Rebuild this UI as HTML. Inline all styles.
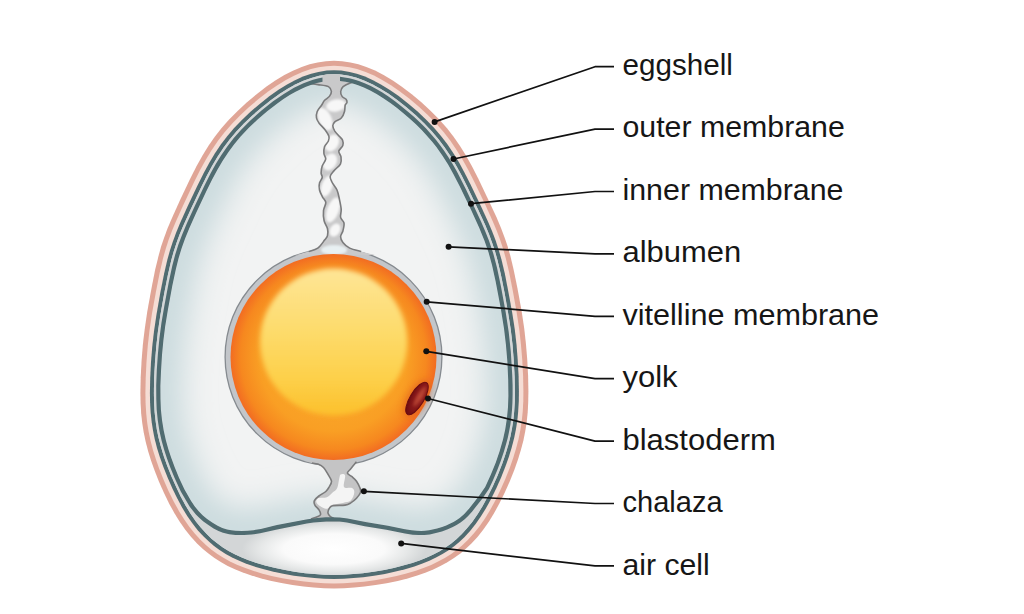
<!DOCTYPE html>
<html><head><meta charset="utf-8"><style>
html,body{margin:0;padding:0;background:#fff;width:1024px;height:614px;overflow:hidden}
svg{display:block}
text{font-family:"Liberation Sans",sans-serif;font-size:30px;fill:#161616}
</style></head><body>
<svg width="1024" height="614" viewBox="0 0 1024 614">
<defs>
<radialGradient id="albg" cx="334" cy="335" r="205" gradientUnits="userSpaceOnUse" gradientTransform="translate(334 335) scale(1 1.3) translate(-334 -335)">
<stop offset="0" stop-color="#f8f8f8"/><stop offset="0.5" stop-color="#f1f2f2"/><stop offset="0.8" stop-color="#e2e9ea"/><stop offset="1" stop-color="#cfdde0"/>
</radialGradient>
<radialGradient id="acg" cx="334" cy="549" r="92" gradientUnits="userSpaceOnUse" gradientTransform="translate(334 549) scale(1 0.3) translate(-334 -549)">
<stop offset="0" stop-color="#ffffff"/><stop offset="0.55" stop-color="#fafafa"/><stop offset="0.8" stop-color="#e6e8e8"/><stop offset="1" stop-color="#d3d6d7"/>
</radialGradient>
<radialGradient id="yolkg" cx="333.5" cy="357" r="103" gradientUnits="userSpaceOnUse">
<stop offset="0" stop-color="#fbb030"/><stop offset="0.72" stop-color="#f99f24"/><stop offset="0.9" stop-color="#f6881f"/><stop offset="1" stop-color="#f26c22"/>
</radialGradient>
<linearGradient id="yelg" x1="0" y1="269" x2="0" y2="415" gradientUnits="userSpaceOnUse">
<stop offset="0" stop-color="#fee596"/><stop offset="0.4" stop-color="#fddc6e"/><stop offset="0.75" stop-color="#fdd04a"/><stop offset="1" stop-color="#fcc02c"/>
</linearGradient>
<radialGradient id="bdg" cx="0.62" cy="0.4" r="0.7">
<stop offset="0" stop-color="#b33a2c"/><stop offset="0.55" stop-color="#861819"/><stop offset="1" stop-color="#660a10"/>
</radialGradient>
<filter id="soft07" x="-20%" y="-20%" width="140%" height="140%"><feGaussianBlur stdDeviation="0.8"/></filter>
<filter id="soft" x="-20%" y="-20%" width="140%" height="140%"><feGaussianBlur stdDeviation="2.6"/></filter>
<filter id="soft4" x="-30%" y="-30%" width="160%" height="160%"><feGaussianBlur stdDeviation="3"/></filter>
<clipPath id="albclip"><path d="M333.1,80.8 L327.7,81.1 L322.3,81.8 L316.9,83.0 L311.5,84.7 L306.0,86.7 L299.6,89.6 L294.2,92.5 L287.9,96.2 L281.7,100.3 L274.7,105.3 L268.0,110.6 L260.7,116.8 L253.7,123.1 L247.9,128.8 L242.4,134.6 L237.2,140.6 L233.0,145.8 L229.0,151.2 L225.2,156.7 L221.2,163.1 L213.8,176.4 L205.8,192.4 L192.8,220.3 L185.7,237.0 L182.7,245.1 L180.3,252.5 L178.1,259.9 L176.0,268.2 L171.4,290.8 L166.2,320.0 L163.6,338.9 L161.8,357.6 L160.6,380.7 L160.4,391.1 L160.5,399.9 L160.9,408.6 L161.6,416.5 L162.6,424.3 L163.8,431.3 L165.8,440.0 L168.3,448.9 L171.5,458.7 L175.3,468.7 L180.0,479.8 L184.5,489.6 L192.3,502.8 L195.7,507.6 L199.0,511.6 L202.6,515.2 L207.1,519.0 L212.6,522.8 L217.6,525.8 L222.9,528.2 L227.8,529.7 L232.8,530.5 L238.6,530.9 L246.1,530.8 L252.8,530.3 L259.3,529.2 L276.3,525.3 L305.4,519.6 L311.5,518.7 L318.3,517.9 L324.4,517.4 L330.6,517.2 L339.1,517.4 L346.8,518.3 L366.2,522.2 L388.6,525.9 L407.2,529.6 L415.3,530.7 L421.9,530.9 L427.7,530.5 L434.2,529.2 L442.1,526.9 L448.3,524.5 L453.5,522.0 L458.5,518.9 L462.5,515.7 L466.1,512.1 L469.9,507.6 L477.4,498.1 L482.8,490.9 L485.2,487.1 L486.8,483.8 L490.9,474.6 L494.6,465.4 L499.7,450.9 L501.9,443.8 L503.7,436.8 L505.9,425.5 L507.4,414.1 L508.3,401.9 L508.4,388.7 L507.9,371.3 L506.6,351.9 L504.9,335.0 L502.5,318.4 L498.9,297.8 L494.8,277.3 L491.6,263.4 L488.5,252.2 L484.7,241.2 L480.2,230.0 L474.3,216.8 L464.6,196.3 L457.2,181.1 L451.4,170.3 L445.6,160.5 L439.2,151.0 L432.2,141.8 L425.1,133.7 L417.4,125.8 L408.2,117.3 L397.6,108.5 L387.3,100.8 L377.5,94.5 L372.0,91.4 L367.5,89.1 L362.9,87.1 L358.4,85.3 L350.2,82.8 L345.7,81.8 L341.2,81.2 L336.7,80.8Z"/></clipPath>
<filter id="glow" x="-10%" y="-10%" width="120%" height="120%"><feGaussianBlur stdDeviation="16"/></filter>
<clipPath id="gapclip"><path d="M334.0,74.3 L327.1,74.6 L319.2,75.8 L311.4,77.9 L303.5,80.7 L295.8,84.3 L288.2,88.5 L279.8,93.7 L270.8,100.2 L261.4,107.7 L252.4,115.5 L244.0,123.5 L236.2,131.8 L229.7,139.5 L223.7,147.5 L217.7,156.4 L212.2,165.7 L206.7,175.9 L200.8,187.9 L190.2,210.4 L183.4,225.4 L179.6,234.6 L176.5,243.0 L173.8,251.3 L171.2,260.5 L168.0,274.6 L164.2,293.6 L160.4,315.0 L157.9,331.7 L156.3,346.3 L155.0,362.2 L154.1,378.7 L153.9,392.9 L154.1,402.8 L154.7,412.7 L155.7,421.7 L156.9,429.8 L158.6,438.0 L161.0,447.1 L163.8,456.3 L167.1,465.5 L171.6,476.8 L176.2,487.1 L180.7,496.5 L185.7,505.7 L190.6,513.7 L195.9,521.4 L201.0,527.8 L206.5,533.8 L211.5,538.7 L216.9,543.1 L222.6,547.2 L228.6,551.0 L234.8,554.3 L241.3,557.3 L248.0,560.1 L255.9,562.8 L265.1,565.5 L274.4,567.8 L283.9,569.8 L294.5,571.7 L305.2,573.2 L314.8,574.1 L324.4,574.7 L334.0,574.9 L343.6,574.7 L353.2,574.1 L362.8,573.2 L373.5,571.8 L384.1,569.9 L393.6,568.0 L403.0,565.6 L412.2,563.0 L420.1,560.2 L426.8,557.5 L433.3,554.5 L439.6,551.2 L445.5,547.5 L451.2,543.4 L456.6,538.9 L461.8,534.1 L467.2,528.1 L472.4,521.7 L477.7,514.0 L482.6,506.0 L487.6,496.8 L492.7,486.5 L497.7,475.2 L502.1,464.0 L505.3,454.7 L508.1,445.6 L510.4,436.5 L512.0,428.3 L513.3,420.2 L514.2,411.1 L514.8,401.2 L514.9,391.3 L514.6,376.2 L513.7,359.8 L512.5,344.7 L510.8,330.1 L508.2,313.4 L504.5,292.6 L500.8,274.3 L497.5,260.3 L494.9,251.1 L492.1,242.7 L489.0,234.3 L485.2,225.1 L478.3,210.1 L467.6,187.6 L461.6,175.6 L456.1,165.4 L450.6,156.2 L444.5,147.2 L438.5,139.3 L431.9,131.6 L424.1,123.3 L415.7,115.3 L406.7,107.5 L397.2,100.0 L388.2,93.6 L379.9,88.4 L372.2,84.2 L364.5,80.7 L356.7,77.8 L348.8,75.8 L340.9,74.6Z"/></clipPath>
<clipPath id="tclip"><path d="M309.0,83.5 C310.5,83.7 314.8,84.1 318.0,84.6 C321.2,85.1 326.3,85.4 328.5,86.6 C330.7,87.8 331.2,89.9 331.4,91.5 C331.5,93.1 330.5,94.9 329.4,96.4 C328.3,97.9 325.9,98.9 324.6,100.3 C323.3,101.7 322.9,103.1 321.7,105.0 C320.5,106.9 318.1,109.3 317.2,111.5 C316.3,113.7 316.2,116.0 316.5,118.0 C316.8,120.0 317.7,121.2 319.1,123.2 C320.5,125.2 323.4,127.6 325.0,129.8 C326.6,132.0 328.3,134.4 328.9,136.3 C329.5,138.2 329.1,139.3 328.4,141.0 C327.7,142.7 325.2,144.6 324.5,146.7 C323.8,148.8 323.7,151.4 323.9,153.5 C324.1,155.6 326.0,157.1 325.7,159.2 C325.4,161.3 323.0,163.7 322.2,166.0 C321.4,168.3 321.1,171.0 321.1,172.9 C321.1,174.8 322.5,175.8 322.2,177.5 C321.9,179.2 319.8,181.1 319.4,183.2 C318.9,185.3 319.0,187.7 319.5,190.0 C320.0,192.3 321.3,194.7 322.4,196.8 C323.4,198.9 325.6,200.2 325.8,202.5 C326.0,204.8 323.8,207.4 323.5,210.5 C323.2,213.6 323.4,217.8 324.1,220.8 C324.8,223.8 326.9,226.2 327.5,228.7 C328.1,231.2 328.0,233.7 327.5,235.6 C327.0,237.5 326.2,238.0 324.6,240.1 C323.0,242.2 320.5,246.2 317.8,248.1 C315.1,250.0 312.5,250.3 308.7,251.5 C304.9,252.7 297.3,254.8 295.0,255.5 L375.0,255.0 C372.7,254.4 365.3,252.7 361.1,251.5 C356.9,250.3 352.7,249.6 349.7,248.1 C346.7,246.6 344.4,244.3 342.9,242.4 C341.4,240.5 340.6,238.6 340.6,236.7 C340.6,234.8 342.3,233.3 342.9,231.0 C343.5,228.7 344.4,225.3 344.0,223.0 C343.6,220.7 341.1,219.7 340.6,217.4 C340.1,215.1 341.4,212.5 341.2,209.4 C341.0,206.3 340.1,202.3 339.4,199.1 C338.7,195.9 338.2,192.8 337.0,190.0 C335.8,187.2 333.0,184.3 331.9,182.0 C330.8,179.7 329.8,178.2 330.2,176.3 C330.6,174.4 332.5,172.7 334.2,170.6 C335.9,168.5 339.4,166.1 340.5,163.8 C341.6,161.5 341.3,159.0 341.0,156.9 C340.7,154.8 338.5,153.1 338.8,151.2 C339.1,149.3 342.2,147.3 342.8,145.5 C343.4,143.7 343.2,141.7 342.6,140.2 C342.0,138.7 340.6,137.8 339.3,136.3 C338.0,134.8 335.9,132.8 334.8,131.1 C333.7,129.3 332.8,127.3 332.8,125.8 C332.8,124.3 333.4,123.2 334.8,121.9 C336.2,120.6 339.7,119.7 341.3,118.0 C342.9,116.3 343.9,113.7 344.5,111.5 C345.1,109.3 344.8,106.5 345.2,105.0 C345.6,103.5 346.9,103.5 347.0,102.5 C347.1,101.5 346.9,100.3 346.1,99.3 C345.3,98.3 343.0,97.7 342.1,96.4 C341.2,95.1 340.5,93.1 340.7,91.5 C340.9,89.9 341.4,88.1 343.1,86.6 C344.8,85.1 348.6,83.5 350.9,82.7 C353.2,81.9 356.0,81.7 357.0,81.5 L340,77 L340,68 L322.5,68 L322.5,80 Z"/></clipPath>
<clipPath id="bclip"><path d="M305.0,461.0 C306.2,461.3 309.9,462.5 312.0,463.0 C314.1,463.5 315.9,463.4 317.8,464.1 C319.7,464.9 321.8,465.8 323.5,467.5 C325.2,469.2 326.7,472.1 328.0,474.4 C329.3,476.7 331.3,479.1 331.5,481.2 C331.7,483.3 330.1,485.2 329.2,486.9 C328.2,488.6 327.5,490.0 325.8,491.5 C324.1,493.0 320.8,494.5 318.9,496.0 C317.0,497.5 315.1,499.1 314.4,500.6 C313.7,502.1 314.1,503.6 314.9,505.1 C315.6,506.6 317.9,508.2 318.9,509.7 C319.8,511.2 320.8,513.2 320.6,514.3 C320.4,515.4 319.4,515.8 317.8,516.5 C316.2,517.2 314.0,517.9 311.0,518.8 C308.0,519.7 301.8,521.5 300.0,522.0 L370.0,522.0 C365.0,521.7 346.1,520.6 340.0,520.0 C333.9,519.4 335.3,518.8 333.7,518.2 C332.1,517.6 331.2,517.4 330.3,516.5 C329.4,515.6 328.2,514.4 328.0,513.1 C327.8,511.8 328.4,509.8 329.2,508.6 C330.0,507.4 330.0,506.3 332.6,505.7 C335.2,505.1 342.1,505.6 345.1,505.1 C348.1,504.6 348.9,504.0 350.8,502.9 C352.7,501.8 354.9,500.0 356.5,498.3 C358.1,496.6 359.9,494.3 360.5,492.6 C361.1,490.9 360.7,489.9 360.0,488.0 C359.3,486.1 357.8,483.1 356.5,481.2 C355.2,479.3 353.5,478.0 352.0,476.7 C350.5,475.4 347.6,474.5 347.4,473.2 C347.2,471.9 349.3,470.6 350.8,468.7 C352.3,466.8 354.6,463.4 356.5,461.8 C358.4,460.2 361.1,459.5 362.0,459.0 Z"/></clipPath>
</defs>
<path d="M334.0,60.8 L325.8,61.2 L317.6,62.4 L309.6,64.3 L301.7,66.9 L292.9,70.7 L284.4,75.1 L275.3,80.6 L266.5,86.6 L256.3,94.4 L246.7,102.5 L237.6,110.9 L229.1,119.6 L221.2,128.6 L214.6,137.0 L208.5,145.7 L202.5,155.5 L196.5,166.2 L190.3,178.6 L180.2,199.8 L172.1,217.7 L167.7,228.1 L164.1,237.7 L161.1,246.6 L158.4,256.4 L155.1,270.1 L151.4,288.7 L147.2,312.0 L144.7,329.2 L142.9,344.2 L141.6,360.5 L140.7,377.3 L140.4,392.9 L140.6,403.3 L141.2,413.8 L142.3,423.5 L143.7,432.3 L145.5,441.0 L148.0,450.8 L151.0,460.5 L154.5,470.3 L159.1,482.0 L163.9,492.8 L169.2,503.7 L174.6,513.4 L179.9,522.0 L185.1,529.5 L190.7,536.6 L196.8,543.3 L202.6,548.7 L207.8,553.1 L214.1,557.8 L220.8,562.1 L227.7,565.9 L234.9,569.3 L242.2,572.3 L250.7,575.3 L260.5,578.2 L270.3,580.7 L281.4,583.1 L292.5,585.0 L303.6,586.6 L313.7,587.6 L323.9,588.2 L334.0,588.4 L344.1,588.2 L354.3,587.6 L364.4,586.6 L375.5,585.1 L386.7,583.2 L397.7,580.9 L407.6,578.4 L417.3,575.5 L425.9,572.5 L433.2,569.5 L440.4,566.1 L447.3,562.3 L454.0,558.0 L460.4,553.4 L465.6,549.0 L471.4,543.5 L477.5,536.9 L483.2,529.8 L489.0,521.4 L494.3,512.8 L499.6,503.0 L504.9,492.2 L509.7,481.4 L514.4,469.7 L517.8,459.9 L520.8,450.2 L523.4,440.4 L525.2,431.6 L526.7,421.9 L527.7,412.2 L528.2,402.6 L528.4,391.3 L528.1,375.7 L527.2,358.9 L525.9,343.4 L524.2,328.3 L521.6,311.1 L517.5,288.5 L513.7,269.9 L510.4,256.0 L507.6,246.3 L504.6,237.4 L500.9,227.7 L496.5,217.3 L488.2,199.4 L478.1,178.2 L471.7,165.8 L465.8,155.2 L459.7,145.4 L453.6,136.7 L447.0,128.3 L439.0,119.3 L430.5,110.7 L421.4,102.3 L411.8,94.2 L401.5,86.4 L392.8,80.5 L383.6,75.0 L375.1,70.6 L366.3,66.9 L358.4,64.3 L350.4,62.4 L342.2,61.2Z" fill="#e0a596"/>
<path d="M334.0,65.8 L326.3,66.2 L318.6,67.3 L311.0,69.1 L302.4,72.0 L294.0,75.7 L285.9,80.0 L277.0,85.4 L268.5,91.3 L258.5,99.0 L249.1,107.0 L240.3,115.2 L232.0,123.8 L224.4,132.6 L218.0,140.8 L211.6,150.2 L205.8,159.8 L200.0,170.3 L193.9,182.5 L183.2,205.2 L176.0,221.3 L172.0,230.7 L168.5,240.2 L165.7,248.9 L163.0,258.4 L159.7,272.8 L155.9,292.0 L152.0,313.6 L149.5,330.6 L147.8,345.5 L146.5,361.7 L145.7,378.4 L145.4,392.9 L145.6,403.1 L146.2,413.4 L147.2,422.8 L148.6,431.4 L150.4,439.9 L152.8,449.4 L155.8,459.0 L159.1,468.5 L163.7,480.1 L168.4,490.7 L173.7,501.4 L178.9,510.9 L184.1,519.3 L189.1,526.5 L194.5,533.3 L200.4,539.8 L205.9,545.0 L210.9,549.2 L217.0,553.7 L223.4,557.8 L230.0,561.4 L236.9,564.7 L244.0,567.6 L252.3,570.6 L261.8,573.4 L271.5,575.9 L282.3,578.2 L293.2,580.1 L304.2,581.6 L314.1,582.6 L324.1,583.2 L334.0,583.4 L343.9,583.2 L353.9,582.6 L363.8,581.7 L374.8,580.2 L385.7,578.3 L396.6,576.0 L406.3,573.6 L415.8,570.7 L424.1,567.8 L431.2,564.9 L438.1,561.6 L444.8,558.0 L451.2,553.9 L457.3,549.4 L462.3,545.3 L467.8,540.0 L473.7,533.6 L479.2,526.8 L484.8,518.7 L490.0,510.3 L495.2,500.7 L500.4,490.1 L505.1,479.5 L509.7,467.9 L513.1,458.3 L516.0,448.8 L518.5,439.3 L520.2,430.8 L521.7,421.3 L522.7,411.8 L523.3,401.5 L523.4,391.3 L523.1,375.9 L522.2,359.2 L520.9,343.9 L519.2,329.0 L516.6,311.9 L512.7,290.2 L509.0,271.7 L505.7,258.1 L503.0,248.6 L500.2,239.9 L496.6,230.4 L492.6,220.9 L485.3,204.8 L474.4,182.1 L468.3,169.9 L462.5,159.4 L456.6,149.9 L450.2,140.6 L443.8,132.3 L436.1,123.5 L427.8,115.0 L418.9,106.8 L409.5,98.8 L399.6,91.2 L391.0,85.3 L382.2,79.9 L374.0,75.6 L365.6,72.0 L357.0,69.1 L349.4,67.3 L341.7,66.2Z" fill="#f5ddd5"/>
<path d="M334.0,70.3 L326.7,70.6 L318.4,71.9 L311.2,73.8 L303.0,76.6 L295.0,80.2 L287.1,84.5 L278.5,89.8 L269.3,96.3 L259.7,103.9 L250.5,111.8 L241.9,119.9 L233.9,128.3 L227.2,136.2 L221.0,144.3 L214.8,153.5 L209.2,162.9 L203.6,173.2 L197.6,185.3 L187.3,207.1 L180.1,223.0 L176.2,232.4 L172.8,241.7 L170.0,250.2 L167.4,259.5 L164.1,273.7 L160.3,292.8 L156.5,314.4 L154.0,331.2 L152.3,346.0 L151.0,362.0 L150.2,378.6 L149.9,392.9 L150.1,402.9 L150.7,413.0 L151.7,422.2 L153.0,430.6 L154.7,438.9 L157.1,448.2 L160.0,457.5 L163.4,466.9 L167.9,478.3 L172.5,488.8 L177.2,498.3 L182.2,507.7 L187.2,515.9 L192.7,523.8 L197.9,530.4 L203.6,536.6 L208.9,541.6 L213.7,545.7 L219.5,550.0 L225.7,553.9 L232.1,557.4 L238.7,560.6 L245.6,563.4 L253.7,566.3 L263.0,569.1 L272.5,571.5 L283.2,573.8 L293.9,575.7 L304.7,577.1 L314.5,578.1 L324.2,578.7 L334.0,578.9 L343.8,578.7 L353.5,578.1 L363.3,577.2 L374.1,575.7 L384.9,573.9 L395.6,571.6 L405.1,569.2 L414.4,566.4 L422.5,563.6 L429.4,560.8 L436.0,557.6 L442.5,554.1 L448.6,550.2 L454.5,545.9 L459.3,541.9 L464.6,536.9 L470.3,530.7 L475.6,524.1 L481.0,516.2 L486.1,508.0 L491.2,498.7 L496.3,488.2 L501.0,477.7 L505.5,466.3 L508.8,456.9 L511.7,447.6 L514.1,438.3 L515.8,429.9 L517.3,420.7 L518.2,411.5 L518.8,401.3 L518.9,391.3 L518.6,376.1 L517.7,359.5 L516.5,344.4 L514.8,329.6 L512.2,312.7 L508.4,291.9 L504.8,273.5 L501.4,259.3 L498.7,249.9 L495.9,241.3 L492.4,232.1 L488.5,222.7 L481.2,206.7 L470.8,185.0 L464.7,172.9 L459.1,162.6 L453.4,153.2 L447.2,144.0 L441.0,136.0 L434.2,128.1 L426.2,119.7 L417.6,111.6 L408.4,103.7 L398.7,96.1 L389.5,89.7 L380.9,84.4 L373.0,80.2 L365.0,76.6 L356.8,73.7 L349.6,71.9 L341.3,70.6Z" fill="#506c71"/>
<path d="M334.0,74.3 L327.1,74.6 L319.2,75.8 L311.4,77.9 L303.5,80.7 L295.8,84.3 L288.2,88.5 L279.8,93.7 L270.8,100.2 L261.4,107.7 L252.4,115.5 L244.0,123.5 L236.2,131.8 L229.7,139.5 L223.7,147.5 L217.7,156.4 L212.2,165.7 L206.7,175.9 L200.8,187.9 L190.2,210.4 L183.4,225.4 L179.6,234.6 L176.5,243.0 L173.8,251.3 L171.2,260.5 L168.0,274.6 L164.2,293.6 L160.4,315.0 L157.9,331.7 L156.3,346.3 L155.0,362.2 L154.1,378.7 L153.9,392.9 L154.1,402.8 L154.7,412.7 L155.7,421.7 L156.9,429.8 L158.6,438.0 L161.0,447.1 L163.8,456.3 L167.1,465.5 L171.6,476.8 L176.2,487.1 L180.7,496.5 L185.7,505.7 L190.6,513.7 L195.9,521.4 L201.0,527.8 L206.5,533.8 L211.5,538.7 L216.9,543.1 L222.6,547.2 L228.6,551.0 L234.8,554.3 L241.3,557.3 L248.0,560.1 L255.9,562.8 L265.1,565.5 L274.4,567.8 L283.9,569.8 L294.5,571.7 L305.2,573.2 L314.8,574.1 L324.4,574.7 L334.0,574.9 L343.6,574.7 L353.2,574.1 L362.8,573.2 L373.5,571.8 L384.1,569.9 L393.6,568.0 L403.0,565.6 L412.2,563.0 L420.1,560.2 L426.8,557.5 L433.3,554.5 L439.6,551.2 L445.5,547.5 L451.2,543.4 L456.6,538.9 L461.8,534.1 L467.2,528.1 L472.4,521.7 L477.7,514.0 L482.6,506.0 L487.6,496.8 L492.7,486.5 L497.7,475.2 L502.1,464.0 L505.3,454.7 L508.1,445.6 L510.4,436.5 L512.0,428.3 L513.3,420.2 L514.2,411.1 L514.8,401.2 L514.9,391.3 L514.6,376.2 L513.7,359.8 L512.5,344.7 L510.8,330.1 L508.2,313.4 L504.5,292.6 L500.8,274.3 L497.5,260.3 L494.9,251.1 L492.1,242.7 L489.0,234.3 L485.2,225.1 L478.3,210.1 L467.6,187.6 L461.6,175.6 L456.1,165.4 L450.6,156.2 L444.5,147.2 L438.5,139.3 L431.9,131.6 L424.1,123.3 L415.7,115.3 L406.7,107.5 L397.2,100.0 L388.2,93.6 L379.9,88.4 L372.2,84.2 L364.5,80.7 L356.7,77.8 L348.8,75.8 L340.9,74.6Z" fill="#d4e0e2"/>
<path d="M334.0,74.3 L327.1,74.6 L319.2,75.8 L311.4,77.9 L303.5,80.7 L295.8,84.3 L288.2,88.5 L279.8,93.7 L270.8,100.2 L261.4,107.7 L252.4,115.5 L244.0,123.5 L236.2,131.8 L229.7,139.5 L223.7,147.5 L217.7,156.4 L212.2,165.7 L206.7,175.9 L200.8,187.9 L190.2,210.4 L183.4,225.4 L179.6,234.6 L176.5,243.0 L173.8,251.3 L171.2,260.5 L168.0,274.6 L164.2,293.6 L160.4,315.0 L157.9,331.7 L156.3,346.3 L155.0,362.2 L154.1,378.7 L153.9,392.9 L154.1,402.8 L154.7,412.7 L155.7,421.7 L156.9,429.8 L158.6,438.0 L161.0,447.1 L163.8,456.3 L167.1,465.5 L171.6,476.8 L176.2,487.1 L180.7,496.5 L185.7,505.7 L190.6,513.7 L195.9,521.4 L201.0,527.8 L206.5,533.8 L211.5,538.7 L216.9,543.1 L222.6,547.2 L228.6,551.0 L234.8,554.3 L241.3,557.3 L248.0,560.1 L255.9,562.8 L265.1,565.5 L274.4,567.8 L283.9,569.8 L294.5,571.7 L305.2,573.2 L314.8,574.1 L324.4,574.7 L334.0,574.9 L343.6,574.7 L353.2,574.1 L362.8,573.2 L373.5,571.8 L384.1,569.9 L393.6,568.0 L403.0,565.6 L412.2,563.0 L420.1,560.2 L426.8,557.5 L433.3,554.5 L439.6,551.2 L445.5,547.5 L451.2,543.4 L456.6,538.9 L461.8,534.1 L467.2,528.1 L472.4,521.7 L477.7,514.0 L482.6,506.0 L487.6,496.8 L492.7,486.5 L497.7,475.2 L502.1,464.0 L505.3,454.7 L508.1,445.6 L510.4,436.5 L512.0,428.3 L513.3,420.2 L514.2,411.1 L514.8,401.2 L514.9,391.3 L514.6,376.2 L513.7,359.8 L512.5,344.7 L510.8,330.1 L508.2,313.4 L504.5,292.6 L500.8,274.3 L497.5,260.3 L494.9,251.1 L492.1,242.7 L489.0,234.3 L485.2,225.1 L478.3,210.1 L467.6,187.6 L461.6,175.6 L456.1,165.4 L450.6,156.2 L444.5,147.2 L438.5,139.3 L431.9,131.6 L424.1,123.3 L415.7,115.3 L406.7,107.5 L397.2,100.0 L388.2,93.6 L379.9,88.4 L372.2,84.2 L364.5,80.7 L356.7,77.8 L348.8,75.8 L340.9,74.6Z" fill="url(#acg)"/>
<path d="M333.1,80.8 L327.7,81.1 L322.3,81.8 L316.9,83.0 L311.5,84.7 L306.0,86.7 L299.6,89.6 L294.2,92.5 L287.9,96.2 L281.7,100.3 L274.7,105.3 L268.0,110.6 L260.7,116.8 L253.7,123.1 L247.9,128.8 L242.4,134.6 L237.2,140.6 L233.0,145.8 L229.0,151.2 L225.2,156.7 L221.2,163.1 L213.8,176.4 L205.8,192.4 L192.8,220.3 L185.7,237.0 L182.7,245.1 L180.3,252.5 L178.1,259.9 L176.0,268.2 L171.4,290.8 L166.2,320.0 L163.6,338.9 L161.8,357.6 L160.6,380.7 L160.4,391.1 L160.5,399.9 L160.9,408.6 L161.6,416.5 L162.6,424.3 L163.8,431.3 L165.8,440.0 L168.3,448.9 L171.5,458.7 L175.3,468.7 L180.0,479.8 L184.5,489.6 L192.3,502.8 L195.7,507.6 L199.0,511.6 L202.6,515.2 L207.1,519.0 L212.6,522.8 L217.6,525.8 L222.9,528.2 L227.8,529.7 L232.8,530.5 L238.6,530.9 L246.1,530.8 L252.8,530.3 L259.3,529.2 L276.3,525.3 L305.4,519.6 L311.5,518.7 L318.3,517.9 L324.4,517.4 L330.6,517.2 L339.1,517.4 L346.8,518.3 L366.2,522.2 L388.6,525.9 L407.2,529.6 L415.3,530.7 L421.9,530.9 L427.7,530.5 L434.2,529.2 L442.1,526.9 L448.3,524.5 L453.5,522.0 L458.5,518.9 L462.5,515.7 L466.1,512.1 L469.9,507.6 L477.4,498.1 L482.8,490.9 L485.2,487.1 L486.8,483.8 L490.9,474.6 L494.6,465.4 L499.7,450.9 L501.9,443.8 L503.7,436.8 L505.9,425.5 L507.4,414.1 L508.3,401.9 L508.4,388.7 L507.9,371.3 L506.6,351.9 L504.9,335.0 L502.5,318.4 L498.9,297.8 L494.8,277.3 L491.6,263.4 L488.5,252.2 L484.7,241.2 L480.2,230.0 L474.3,216.8 L464.6,196.3 L457.2,181.1 L451.4,170.3 L445.6,160.5 L439.2,151.0 L432.2,141.8 L425.1,133.7 L417.4,125.8 L408.2,117.3 L397.6,108.5 L387.3,100.8 L377.5,94.5 L372.0,91.4 L367.5,89.1 L362.9,87.1 L358.4,85.3 L350.2,82.8 L345.7,81.8 L341.2,81.2 L336.7,80.8Z" fill="#f2f3f3"/>
<g clip-path="url(#albclip)"><path d="M333.1,80.8 L327.7,81.1 L322.3,81.8 L316.9,83.0 L311.5,84.7 L306.0,86.7 L299.6,89.6 L294.2,92.5 L287.9,96.2 L281.7,100.3 L274.7,105.3 L268.0,110.6 L260.7,116.8 L253.7,123.1 L247.9,128.8 L242.4,134.6 L237.2,140.6 L233.0,145.8 L229.0,151.2 L225.2,156.7 L221.2,163.1 L213.8,176.4 L205.8,192.4 L192.8,220.3 L185.7,237.0 L182.7,245.1 L180.3,252.5 L178.1,259.9 L176.0,268.2 L171.4,290.8 L166.2,320.0 L163.6,338.9 L161.8,357.6 L160.6,380.7 L160.4,391.1 L160.5,399.9 L160.9,408.6 L161.6,416.5 L162.6,424.3 L163.8,431.3 L165.8,440.0 L168.3,448.9 L171.5,458.7 L175.3,468.7 L180.0,479.8 L184.5,489.6 L192.3,502.8 L195.7,507.6 L199.0,511.6 L202.6,515.2 L207.1,519.0 L212.6,522.8 L217.6,525.8 L222.9,528.2 L227.8,529.7 L232.8,530.5 L238.6,530.9 L246.1,530.8 L252.8,530.3 L259.3,529.2 L276.3,525.3 L305.4,519.6 L311.5,518.7 L318.3,517.9 L324.4,517.4 L330.6,517.2 L339.1,517.4 L346.8,518.3 L366.2,522.2 L388.6,525.9 L407.2,529.6 L415.3,530.7 L421.9,530.9 L427.7,530.5 L434.2,529.2 L442.1,526.9 L448.3,524.5 L453.5,522.0 L458.5,518.9 L462.5,515.7 L466.1,512.1 L469.9,507.6 L477.4,498.1 L482.8,490.9 L485.2,487.1 L486.8,483.8 L490.9,474.6 L494.6,465.4 L499.7,450.9 L501.9,443.8 L503.7,436.8 L505.9,425.5 L507.4,414.1 L508.3,401.9 L508.4,388.7 L507.9,371.3 L506.6,351.9 L504.9,335.0 L502.5,318.4 L498.9,297.8 L494.8,277.3 L491.6,263.4 L488.5,252.2 L484.7,241.2 L480.2,230.0 L474.3,216.8 L464.6,196.3 L457.2,181.1 L451.4,170.3 L445.6,160.5 L439.2,151.0 L432.2,141.8 L425.1,133.7 L417.4,125.8 L408.2,117.3 L397.6,108.5 L387.3,100.8 L377.5,94.5 L372.0,91.4 L367.5,89.1 L362.9,87.1 L358.4,85.3 L350.2,82.8 L345.7,81.8 L341.2,81.2 L336.7,80.8Z" fill="none" stroke="#c6d8db" stroke-width="40" filter="url(#glow)"/></g>
<circle cx="333.5" cy="357" r="108.4" fill="#c3c6ca" stroke="#858a8f" stroke-width="1.3"/>
<g clip-path="url(#gapclip)">
<path d="M309.0,83.5 C310.5,83.7 314.8,84.1 318.0,84.6 C321.2,85.1 326.3,85.4 328.5,86.6 C330.7,87.8 331.2,89.9 331.4,91.5 C331.5,93.1 330.5,94.9 329.4,96.4 C328.3,97.9 325.9,98.9 324.6,100.3 C323.3,101.7 322.9,103.1 321.7,105.0 C320.5,106.9 318.1,109.3 317.2,111.5 C316.3,113.7 316.2,116.0 316.5,118.0 C316.8,120.0 317.7,121.2 319.1,123.2 C320.5,125.2 323.4,127.6 325.0,129.8 C326.6,132.0 328.3,134.4 328.9,136.3 C329.5,138.2 329.1,139.3 328.4,141.0 C327.7,142.7 325.2,144.6 324.5,146.7 C323.8,148.8 323.7,151.4 323.9,153.5 C324.1,155.6 326.0,157.1 325.7,159.2 C325.4,161.3 323.0,163.7 322.2,166.0 C321.4,168.3 321.1,171.0 321.1,172.9 C321.1,174.8 322.5,175.8 322.2,177.5 C321.9,179.2 319.8,181.1 319.4,183.2 C318.9,185.3 319.0,187.7 319.5,190.0 C320.0,192.3 321.3,194.7 322.4,196.8 C323.4,198.9 325.6,200.2 325.8,202.5 C326.0,204.8 323.8,207.4 323.5,210.5 C323.2,213.6 323.4,217.8 324.1,220.8 C324.8,223.8 326.9,226.2 327.5,228.7 C328.1,231.2 328.0,233.7 327.5,235.6 C327.0,237.5 326.2,238.0 324.6,240.1 C323.0,242.2 320.5,246.2 317.8,248.1 C315.1,250.0 312.5,250.3 308.7,251.5 C304.9,252.7 297.3,254.8 295.0,255.5 L375.0,255.0 C372.7,254.4 365.3,252.7 361.1,251.5 C356.9,250.3 352.7,249.6 349.7,248.1 C346.7,246.6 344.4,244.3 342.9,242.4 C341.4,240.5 340.6,238.6 340.6,236.7 C340.6,234.8 342.3,233.3 342.9,231.0 C343.5,228.7 344.4,225.3 344.0,223.0 C343.6,220.7 341.1,219.7 340.6,217.4 C340.1,215.1 341.4,212.5 341.2,209.4 C341.0,206.3 340.1,202.3 339.4,199.1 C338.7,195.9 338.2,192.8 337.0,190.0 C335.8,187.2 333.0,184.3 331.9,182.0 C330.8,179.7 329.8,178.2 330.2,176.3 C330.6,174.4 332.5,172.7 334.2,170.6 C335.9,168.5 339.4,166.1 340.5,163.8 C341.6,161.5 341.3,159.0 341.0,156.9 C340.7,154.8 338.5,153.1 338.8,151.2 C339.1,149.3 342.2,147.3 342.8,145.5 C343.4,143.7 343.2,141.7 342.6,140.2 C342.0,138.7 340.6,137.8 339.3,136.3 C338.0,134.8 335.9,132.8 334.8,131.1 C333.7,129.3 332.8,127.3 332.8,125.8 C332.8,124.3 333.4,123.2 334.8,121.9 C336.2,120.6 339.7,119.7 341.3,118.0 C342.9,116.3 343.9,113.7 344.5,111.5 C345.1,109.3 344.8,106.5 345.2,105.0 C345.6,103.5 346.9,103.5 347.0,102.5 C347.1,101.5 346.9,100.3 346.1,99.3 C345.3,98.3 343.0,97.7 342.1,96.4 C341.2,95.1 340.5,93.1 340.7,91.5 C340.9,89.9 341.4,88.1 343.1,86.6 C344.8,85.1 348.6,83.5 350.9,82.7 C353.2,81.9 356.0,81.7 357.0,81.5 L340,77 L340,68 L322.5,68 L322.5,80 Z" fill="#c9c9ca"/>
<g clip-path="url(#tclip)"><g fill="#f7f7f7" filter="url(#soft07)">
<ellipse cx="336" cy="105.5" rx="10" ry="6" transform="rotate(-10 336 105.5)"/>
<ellipse cx="325" cy="119" rx="6.5" ry="12" transform="rotate(-25 325 119)"/>
<ellipse cx="332" cy="143" rx="6.5" ry="9" transform="rotate(30 332 143)"/>
<ellipse cx="330" cy="162" rx="6.5" ry="9" transform="rotate(30 330 162)"/>
<ellipse cx="327" cy="186" rx="5.5" ry="11" transform="rotate(20 327 186)"/>
<ellipse cx="333" cy="210" rx="6" ry="13" transform="rotate(20 333 210)"/>
<ellipse cx="335" cy="230" rx="5" ry="7" transform="rotate(30 335 230)"/>
<ellipse cx="334" cy="250" rx="13" ry="5" fill="#e8f0f2"/>
</g></g>
<path d="M309.0,83.5 C310.5,83.7 314.8,84.1 318.0,84.6 C321.2,85.1 326.3,85.4 328.5,86.6 C330.7,87.8 331.2,89.9 331.4,91.5 C331.5,93.1 330.5,94.9 329.4,96.4 C328.3,97.9 325.9,98.9 324.6,100.3 C323.3,101.7 322.9,103.1 321.7,105.0 C320.5,106.9 318.1,109.3 317.2,111.5 C316.3,113.7 316.2,116.0 316.5,118.0 C316.8,120.0 317.7,121.2 319.1,123.2 C320.5,125.2 323.4,127.6 325.0,129.8 C326.6,132.0 328.3,134.4 328.9,136.3 C329.5,138.2 329.1,139.3 328.4,141.0 C327.7,142.7 325.2,144.6 324.5,146.7 C323.8,148.8 323.7,151.4 323.9,153.5 C324.1,155.6 326.0,157.1 325.7,159.2 C325.4,161.3 323.0,163.7 322.2,166.0 C321.4,168.3 321.1,171.0 321.1,172.9 C321.1,174.8 322.5,175.8 322.2,177.5 C321.9,179.2 319.8,181.1 319.4,183.2 C318.9,185.3 319.0,187.7 319.5,190.0 C320.0,192.3 321.3,194.7 322.4,196.8 C323.4,198.9 325.6,200.2 325.8,202.5 C326.0,204.8 323.8,207.4 323.5,210.5 C323.2,213.6 323.4,217.8 324.1,220.8 C324.8,223.8 326.9,226.2 327.5,228.7 C328.1,231.2 328.0,233.7 327.5,235.6 C327.0,237.5 326.2,238.0 324.6,240.1 C323.0,242.2 320.5,246.2 317.8,248.1 C315.1,250.0 310.2,250.9 308.7,251.5 M361.1,251.5 C359.2,250.9 352.7,249.6 349.7,248.1 C346.7,246.6 344.4,244.3 342.9,242.4 C341.4,240.5 340.6,238.6 340.6,236.7 C340.6,234.8 342.3,233.3 342.9,231.0 C343.5,228.7 344.4,225.3 344.0,223.0 C343.6,220.7 341.1,219.7 340.6,217.4 C340.1,215.1 341.4,212.5 341.2,209.4 C341.0,206.3 340.1,202.3 339.4,199.1 C338.7,195.9 338.2,192.8 337.0,190.0 C335.8,187.2 333.0,184.3 331.9,182.0 C330.8,179.7 329.8,178.2 330.2,176.3 C330.6,174.4 332.5,172.7 334.2,170.6 C335.9,168.5 339.4,166.1 340.5,163.8 C341.6,161.5 341.3,159.0 341.0,156.9 C340.7,154.8 338.5,153.1 338.8,151.2 C339.1,149.3 342.2,147.3 342.8,145.5 C343.4,143.7 343.2,141.7 342.6,140.2 C342.0,138.7 340.6,137.8 339.3,136.3 C338.0,134.8 335.9,132.8 334.8,131.1 C333.7,129.3 332.8,127.3 332.8,125.8 C332.8,124.3 333.4,123.2 334.8,121.9 C336.2,120.6 339.7,119.7 341.3,118.0 C342.9,116.3 343.9,113.7 344.5,111.5 C345.1,109.3 344.8,106.5 345.2,105.0 C345.6,103.5 346.9,103.5 347.0,102.5 C347.1,101.5 346.9,100.3 346.1,99.3 C345.3,98.3 343.0,97.7 342.1,96.4 C341.2,95.1 340.5,93.1 340.7,91.5 C340.9,89.9 341.4,88.1 343.1,86.6 C344.8,85.1 348.6,83.5 350.9,82.7 C353.2,81.9 356.0,81.7 357.0,81.5" fill="none" stroke="#7b7b7c" stroke-width="1.6"/>
<path d="M305.0,461.0 C306.2,461.3 309.9,462.5 312.0,463.0 C314.1,463.5 315.9,463.4 317.8,464.1 C319.7,464.9 321.8,465.8 323.5,467.5 C325.2,469.2 326.7,472.1 328.0,474.4 C329.3,476.7 331.3,479.1 331.5,481.2 C331.7,483.3 330.1,485.2 329.2,486.9 C328.2,488.6 327.5,490.0 325.8,491.5 C324.1,493.0 320.8,494.5 318.9,496.0 C317.0,497.5 315.1,499.1 314.4,500.6 C313.7,502.1 314.1,503.6 314.9,505.1 C315.6,506.6 317.9,508.2 318.9,509.7 C319.8,511.2 320.8,513.2 320.6,514.3 C320.4,515.4 319.4,515.8 317.8,516.5 C316.2,517.2 314.0,517.9 311.0,518.8 C308.0,519.7 301.8,521.5 300.0,522.0 L370.0,522.0 C365.0,521.7 346.1,520.6 340.0,520.0 C333.9,519.4 335.3,518.8 333.7,518.2 C332.1,517.6 331.2,517.4 330.3,516.5 C329.4,515.6 328.2,514.4 328.0,513.1 C327.8,511.8 328.4,509.8 329.2,508.6 C330.0,507.4 330.0,506.3 332.6,505.7 C335.2,505.1 342.1,505.6 345.1,505.1 C348.1,504.6 348.9,504.0 350.8,502.9 C352.7,501.8 354.9,500.0 356.5,498.3 C358.1,496.6 359.9,494.3 360.5,492.6 C361.1,490.9 360.7,489.9 360.0,488.0 C359.3,486.1 357.8,483.1 356.5,481.2 C355.2,479.3 353.5,478.0 352.0,476.7 C350.5,475.4 347.6,474.5 347.4,473.2 C347.2,471.9 349.3,470.6 350.8,468.7 C352.3,466.8 354.6,463.4 356.5,461.8 C358.4,460.2 361.1,459.5 362.0,459.0 Z" fill="#c4c4c5"/>
<path d="M340.6,474.4 C341.6,474.0 344.5,473.4 345.1,475.5 C345.7,477.6 342.9,484.8 344.0,486.9 C345.1,489.0 350.3,487.1 352.0,488.0 C353.7,488.9 354.5,490.5 354.3,492.6 C354.1,494.7 352.7,498.9 350.8,500.6 C348.9,502.3 346.1,502.1 342.9,502.9 C339.7,503.6 334.0,504.2 331.5,505.1 C329.0,506.1 329.5,508.2 328.0,508.6 C326.5,509.0 324.3,508.3 322.4,507.4 C320.5,506.4 317.5,504.4 316.7,502.9 C315.9,501.4 316.1,499.2 317.8,498.3 C319.5,497.4 324.4,498.1 326.9,497.2 C329.4,496.2 330.9,494.1 332.6,492.6 C334.3,491.1 336.1,490.5 337.2,488.0 C338.3,485.5 338.8,480.1 339.4,477.8 C340.0,475.5 339.7,474.8 340.6,474.4Z" fill="#f4f4f4"/>
<path d="M312.0,463.0 C313.0,463.2 315.9,463.4 317.8,464.1 C319.7,464.9 321.8,465.8 323.5,467.5 C325.2,469.2 326.7,472.1 328.0,474.4 C329.3,476.7 331.3,479.1 331.5,481.2 C331.7,483.3 330.1,485.2 329.2,486.9 C328.2,488.6 327.5,490.0 325.8,491.5 C324.1,493.0 320.8,494.5 318.9,496.0 C317.0,497.5 315.1,499.1 314.4,500.6 C313.7,502.1 314.1,503.6 314.9,505.1 C315.6,506.6 317.9,508.2 318.9,509.7 C319.8,511.2 320.8,513.2 320.6,514.3 C320.4,515.4 319.4,515.8 317.8,516.5 C316.2,517.2 312.1,518.4 311.0,518.8 M333.7,518.2 C333.1,517.9 331.2,517.4 330.3,516.5 C329.4,515.6 328.2,514.4 328.0,513.1 C327.8,511.8 328.4,509.8 329.2,508.6 C330.0,507.4 330.0,506.3 332.6,505.7 C335.2,505.1 342.1,505.6 345.1,505.1 C348.1,504.6 348.9,504.0 350.8,502.9 C352.7,501.8 354.9,500.0 356.5,498.3 C358.1,496.6 359.9,494.3 360.5,492.6 C361.1,490.9 360.7,489.9 360.0,488.0 C359.3,486.1 357.8,483.1 356.5,481.2 C355.2,479.3 353.5,478.0 352.0,476.7 C350.5,475.4 347.6,474.5 347.4,473.2 C347.2,471.9 349.3,470.6 350.8,468.7 C352.3,466.8 355.6,462.9 356.5,461.8" fill="none" stroke="#7b7b7c" stroke-width="1.6"/>
</g>
<circle cx="333.5" cy="357" r="103" fill="url(#yolkg)"/>
<circle cx="333.7" cy="342" r="73.5" fill="url(#yelg)" filter="url(#soft)"/>
<ellipse cx="417" cy="398.5" rx="9.5" ry="21" transform="rotate(31 417 398.5)" fill="#e0621e" opacity="0.7" filter="url(#soft4)"/>
<ellipse cx="417" cy="398.5" rx="7" ry="18.5" transform="rotate(31 417 398.5)" fill="url(#bdg)" stroke="#6a0c10" stroke-width="1"/>
<ellipse cx="419.5" cy="396.5" rx="2.2" ry="11" transform="rotate(31 419.5 396.5)" fill="#c2503a" opacity="0.55" filter="url(#soft07)"/>
<path d="M322.5,77.6 L317.8,78.5 L313.0,79.8 L308.2,81.4 L303.5,83.3 L294.0,87.8 L283.8,93.9 L273.1,101.3 L261.2,110.8 L250.1,120.8 L240.7,130.3 L233.4,138.6 L227.3,146.4 L221.2,155.2 L215.6,164.3 L210.5,173.6 L204.5,185.5 L194.9,205.7 L186.9,223.2 L182.1,234.7 L178.4,244.5 L175.1,255.0 L172.3,265.7 L168.8,282.1 L164.2,306.7 L161.4,323.3 L159.4,338.4 L157.9,354.0 L156.8,370.1 L156.2,385.8 L156.3,399.1 L156.7,409.8 L157.8,420.5 L159.5,431.2 L161.7,441.1 L164.0,449.2 L166.9,458.3 L170.3,467.5 L174.5,477.8 L180.8,491.6 L186.8,501.8 L189.6,506.4 L192.9,510.8 L195.9,514.4 L199.2,517.8 L203.4,521.4 L208.4,525.0 L213.6,528.4 L218.5,530.9 L223.0,532.7 L229.1,534.2 L235.4,534.9 L244.0,535.1 L251.7,534.6 L260.1,533.3 L277.1,529.4 L306.8,523.6 L313.5,522.6 L320.2,521.9 L326.2,521.5 L332.1,521.4 L339.6,521.6 L346.9,522.5 L364.7,526.2 L386.4,529.8 L405.0,533.5 L412.6,534.7 L418.8,535.1 L424.4,535.0 L429.8,534.4 L435.9,533.1 L441.9,531.4 L447.8,529.3 L452.8,527.1 L457.0,524.8 L460.9,522.3 L464.7,519.3 L468.1,516.1 L472.2,511.4 L482.6,498.2 L488.9,489.1 L493.1,479.9 L497.4,469.7 L500.9,460.4 L504.0,451.3 L506.1,444.1 L507.8,437.8 L509.1,431.5 L510.4,424.4 L511.3,417.2 L512.0,410.1 L512.4,402.9 L512.6,394.9 L512.6,385.1 L512.2,374.6 L510.8,351.6 L508.7,332.0 L505.7,312.2 L501.0,286.7 L497.0,267.8 L493.2,253.2 L488.9,240.4 L485.3,231.4 L481.0,221.4 L466.4,190.3 L456.9,171.6 L452.6,164.0 L448.6,157.4 L444.3,150.9 L440.3,145.4 L436.1,139.9 L430.9,133.9 L426.1,128.6 L420.3,122.8 L414.2,117.0 L407.7,111.4 L401.0,105.9 L395.0,101.2 L388.8,96.8 L382.4,92.6 L375.9,88.8 L370.3,85.8 L364.6,83.2 L358.9,81.0 L354.1,79.5 L349.3,78.3 L344.5,77.4 L340.0,76.8 L340.0,81.1 L345.7,81.8 L352.0,83.3 L357.5,85.0 L363.9,87.5 L370.2,90.5 L376.6,94.0 L383.7,98.4 L390.7,103.3 L396.7,107.8 L403.4,113.2 L409.8,118.7 L415.9,124.3 L421.7,130.1 L427.1,135.9 L432.2,141.8 L436.4,147.1 L442.5,155.7 L448.1,164.5 L453.6,174.4 L459.7,186.2 L470.9,209.6 L479.2,227.7 L484.4,240.4 L488.5,252.2 L492.0,264.9 L495.6,281.2 L500.7,308.1 L504.0,328.6 L505.9,344.6 L507.4,361.9 L508.2,380.0 L508.4,395.7 L508.0,407.1 L506.9,418.5 L505.3,428.9 L503.0,439.4 L499.7,450.9 L495.7,462.7 L490.9,474.6 L485.2,487.1 L478.8,496.3 L469.0,508.7 L464.0,514.2 L459.7,518.0 L456.7,520.1 L453.5,522.0 L450.3,523.6 L446.2,525.4 L442.1,526.9 L437.1,528.5 L429.1,530.2 L424.8,530.8 L421.2,530.9 L416.8,530.8 L411.6,530.3 L405.0,529.2 L387.9,525.8 L365.4,522.1 L347.6,518.4 L339.9,517.5 L332.1,517.2 L326.0,517.3 L319.8,517.7 L313.0,518.5 L306.1,519.5 L277.0,525.1 L260.8,528.9 L253.5,530.2 L247.6,530.7 L241.6,530.9 L235.7,530.7 L231.3,530.3 L227.1,529.5 L222.3,527.9 L217.6,525.8 L212.6,522.8 L207.1,519.0 L202.6,515.2 L198.5,511.0 L194.8,506.4 L191.1,500.9 L184.5,489.6 L179.1,477.9 L174.9,467.8 L171.2,457.8 L168.3,448.9 L165.8,440.0 L163.7,430.4 L162.0,420.0 L160.9,409.5 L160.5,399.0 L160.4,385.9 L161.0,371.2 L162.0,355.1 L163.4,340.5 L165.2,326.3 L167.9,309.8 L172.4,285.3 L175.9,269.0 L178.5,258.4 L181.7,248.1 L185.1,238.5 L189.4,228.0 L196.1,213.1 L206.2,191.6 L212.0,179.7 L217.4,169.7 L222.7,160.7 L228.5,152.0 L234.2,144.3 L240.4,136.8 L248.6,128.1 L257.6,119.6 L267.2,111.3 L277.3,103.4 L283.5,99.1 L289.7,95.1 L295.1,92.0 L300.6,89.2 L306.0,86.7 L311.5,84.7 L316.9,83.0 L322.5,81.8Z" fill="#506c71"/>
<path d="M434.6,121.9 L595,66.7 L614,66.7" fill="none" stroke="#111" stroke-width="1.7" stroke-linejoin="round"/>
<circle cx="434.6" cy="121.9" r="3" fill="#111"/>
<path d="M453.5,159 L595,129.1 L614,129.1" fill="none" stroke="#111" stroke-width="1.7" stroke-linejoin="round"/>
<circle cx="453.5" cy="159" r="3" fill="#111"/>
<path d="M471,203.7 L595,191.5 L614,191.5" fill="none" stroke="#111" stroke-width="1.7" stroke-linejoin="round"/>
<circle cx="471" cy="203.7" r="3" fill="#111"/>
<path d="M448.6,246.8 L595,253.9 L614,253.9" fill="none" stroke="#111" stroke-width="1.7" stroke-linejoin="round"/>
<circle cx="448.6" cy="246.8" r="3" fill="#111"/>
<path d="M426.7,301.8 L595,316.3 L614,316.3" fill="none" stroke="#111" stroke-width="1.7" stroke-linejoin="round"/>
<circle cx="426.7" cy="301.8" r="3" fill="#111"/>
<path d="M426.3,351.3 L595,378.7 L614,378.7" fill="none" stroke="#111" stroke-width="1.7" stroke-linejoin="round"/>
<circle cx="426.3" cy="351.3" r="3" fill="#111"/>
<path d="M428,398.5 L595,441.1 L614,441.1" fill="none" stroke="#111" stroke-width="1.7" stroke-linejoin="round"/>
<circle cx="428" cy="398.5" r="3" fill="#111"/>
<path d="M363.9,491.3 L595,503.5 L614,503.5" fill="none" stroke="#111" stroke-width="1.7" stroke-linejoin="round"/>
<circle cx="363.9" cy="491.3" r="3" fill="#111"/>
<path d="M401.2,543.4 L595,565.9 L614,565.9" fill="none" stroke="#111" stroke-width="1.7" stroke-linejoin="round"/>
<circle cx="401.2" cy="543.4" r="3" fill="#111"/>

<text x="622.5" y="74.6" textLength="110.3" lengthAdjust="spacingAndGlyphs">eggshell</text>
<text x="622.5" y="137.1" textLength="222.3" lengthAdjust="spacingAndGlyphs">outer membrane</text>
<text x="622.5" y="199.7" textLength="221.0" lengthAdjust="spacingAndGlyphs">inner membrane</text>
<text x="622.5" y="262.2" textLength="118.7" lengthAdjust="spacingAndGlyphs">albumen</text>
<text x="622.5" y="324.8" textLength="256.6" lengthAdjust="spacingAndGlyphs">vitelline membrane</text>
<text x="622.5" y="387.4" textLength="55.1" lengthAdjust="spacingAndGlyphs">yolk</text>
<text x="622.5" y="449.9" textLength="153.3" lengthAdjust="spacingAndGlyphs">blastoderm</text>
<text x="622.5" y="512.4" textLength="100.1" lengthAdjust="spacingAndGlyphs">chalaza</text>
<text x="622.5" y="575.0" textLength="87.3" lengthAdjust="spacingAndGlyphs">air cell</text>

</svg>
</body></html>
